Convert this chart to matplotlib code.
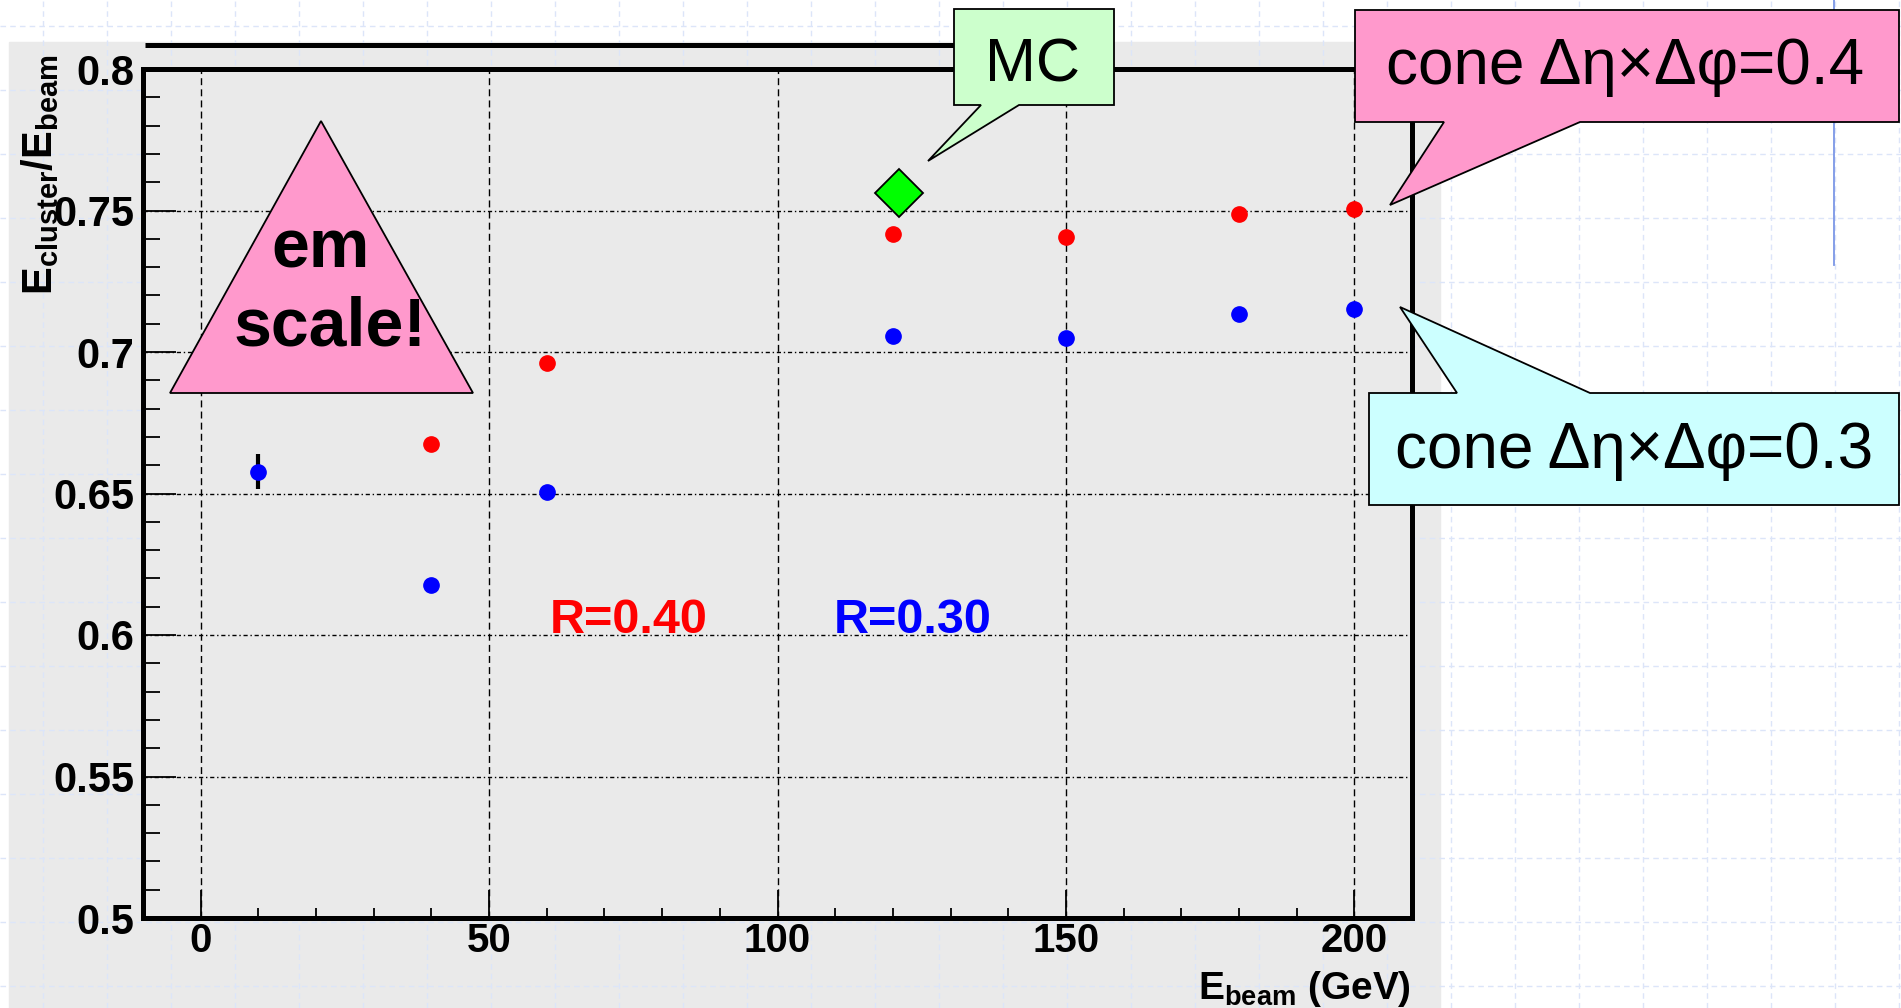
import matplotlib
matplotlib.use('Agg')
import matplotlib.pyplot as plt
from matplotlib.patches import Polygon, Rectangle
from matplotlib.ticker import MultipleLocator

plt.rcParams['font.family'] = ['Liberation Sans', 'DejaVu Sans']
plt.rcParams['mathtext.fontset'] = 'custom'
plt.rcParams['mathtext.rm'] = 'Liberation Sans:bold'
plt.rcParams['mathtext.bf'] = 'Liberation Sans:bold'
plt.rcParams['mathtext.it'] = 'Liberation Sans:bold'

# values
e_r040 = [40, 60, 120, 150, 180, 200]
resp_r040 = [0.6675, 0.6960, 0.7416, 0.7408, 0.7488, 0.7504]
e_r030 = [10, 40, 60, 120, 150, 180, 200]
resp_r030 = [0.6577, 0.6176, 0.6506, 0.7058, 0.7051, 0.7133, 0.7152]
err_r030 = [0.0062, 0, 0, 0, 0, 0, 0]
e_mc = [121]
resp_mc = [0.7563]

x_ticks = [0, 50, 100, 150, 200]
y_ticks = [0.5, 0.55, 0.6, 0.65, 0.7, 0.75, 0.8]
y_ticklabels = ['0.5', '0.55', '0.6', '0.65', '0.7', '0.75', '0.8']

W, H = 1901, 1008
fig = plt.figure(figsize=(W / 100, H / 100), dpi=100)

## slide background (pixel coordinates)
bg = fig.add_axes([0, 0, 1, 1], zorder=0)
bg.set_xlim(0, W)
bg.set_ylim(H, 0)
bg.axis('off')
for gx in range(43, W, 64):
    bg.axvline(gx, color='#dce5f9', lw=1, ls=(0, (4, 3)))
for gy in range(26, H, 64):
    bg.axhline(gy, color='#dce5f9', lw=1, ls=(0, (4, 3)))
bg.add_patch(Rectangle((9, 42), 1431, 966, color='#eaeaea'))
bg.plot([145, 1000], [45, 45], color='black', lw=3.6, solid_capstyle='butt')
bg.plot([1834, 1834], [0, 265], color='#7b96e6', lw=1.3)

## the plot itself
ax = fig.add_axes([143 / W, 1 - 918 / H, (1412 - 143) / W, (918 - 69) / H], zorder=1)
ax.set_facecolor('#eaeaea')
ax.set_xlim(-10, 210)
ax.set_ylim(0.5, 0.8)
ax.set_xticks(x_ticks)
ax.set_yticks(y_ticks)
ax.set_yticklabels(y_ticklabels)
ax.xaxis.set_minor_locator(MultipleLocator(10))
ax.yaxis.set_minor_locator(MultipleLocator(0.01))
ax.tick_params(which='both', direction='in', top=False, right=False, width=1.3, labelsize=30, pad=6)
ax.tick_params(axis='x', which='both', labelsize=29, pad=3)
ax.tick_params(axis='x', which='major', length=20)
ax.tick_params(axis='x', which='minor', length=7)
ax.tick_params(axis='y', which='major', length=24)
ax.tick_params(axis='y', which='minor', length=12)
for lab in ax.get_xticklabels() + ax.get_yticklabels():
    lab.set_fontweight('bold')
for sp in ax.spines.values():
    sp.set_linewidth(3.6)
ax.grid(axis='x', which='major', color='black', lw=1, ls=(0, (5, 3)))
ax.grid(axis='y', which='major', color='black', lw=1, ls=(0, (3, 2, 1, 2)))
ax.set_axisbelow(True)

ax.errorbar(e_r030, resp_r030, yerr=err_r030, fmt='o', color='#0000ff', ms=11,
            ecolor='black', elinewidth=3, capsize=0, zorder=3)
ax.plot(e_r040, resp_r040, 'o', color='#ff0000', ms=11, zorder=3)
ax.plot(e_mc, resp_mc, 'D', color='#00ff00', ms=24, mec='black', mew=1.3, zorder=4)

ax.text(60.5, 0.6007, 'R=0.40', color='#ff0000', fontsize=35, fontweight='bold', va='baseline')
ax.text(109.7, 0.6007, 'R=0.30', color='#0000ff', fontsize=35, fontweight='bold', va='baseline')

## overlay: axis titles and slide call-outs (pixel coordinates)
ov = fig.add_axes([0, 0, 1, 1], zorder=2)
ov.set_xlim(0, W)
ov.set_ylim(H, 0)
ov.set_facecolor('none')
ov.axis('off')

ov.text(40, 175, r'$\mathrm{E_{cluster}/E_{beam}}$', rotation=90, ha='center', va='center', fontsize=30)
ov.text(1411, 999, r'$\mathrm{E_{beam}}$ (GeV)', ha='right', va='baseline', fontsize=28, fontweight='bold')

ov.add_patch(Polygon([(321, 121), (473, 393), (170, 393)], closed=True,
                     facecolor='#ff99cc', edgecolor='black', lw=1.3))
ov.text(321, 268, 'em', ha='center', va='baseline', fontsize=49, fontweight='bold')
ov.text(330, 345, 'scale!', ha='center', va='baseline', fontsize=49, fontweight='bold')

ov.add_patch(Polygon([(954, 9), (1114, 9), (1114, 105), (1019, 105), (928, 161), (981, 105), (954, 105)],
                     closed=True, facecolor='#ccffcc', edgecolor='black', lw=1.3))
ov.text(1033, 82, 'MC', ha='center', va='baseline', fontsize=44)

ov.add_patch(Polygon([(1355, 10), (1899, 10), (1899, 122), (1580, 122), (1390, 205), (1444, 122), (1355, 122)],
                     closed=True, facecolor='#ff99cc', edgecolor='black', lw=1.3))
ov.text(1386, 84, 'cone \u0394\u03b7\u00d7\u0394\u03c6=0.4', ha='left', va='baseline', fontsize=46)

ov.add_patch(Polygon([(1369, 393), (1457, 393), (1400, 307), (1590, 393), (1899, 393), (1899, 505), (1369, 505)],
                     closed=True, facecolor='#ccffff', edgecolor='black', lw=1.3))
ov.text(1395, 468, 'cone \u0394\u03b7\u00d7\u0394\u03c6=0.3', ha='left', va='baseline', fontsize=46)

fig.savefig('out.png', dpi=100)
